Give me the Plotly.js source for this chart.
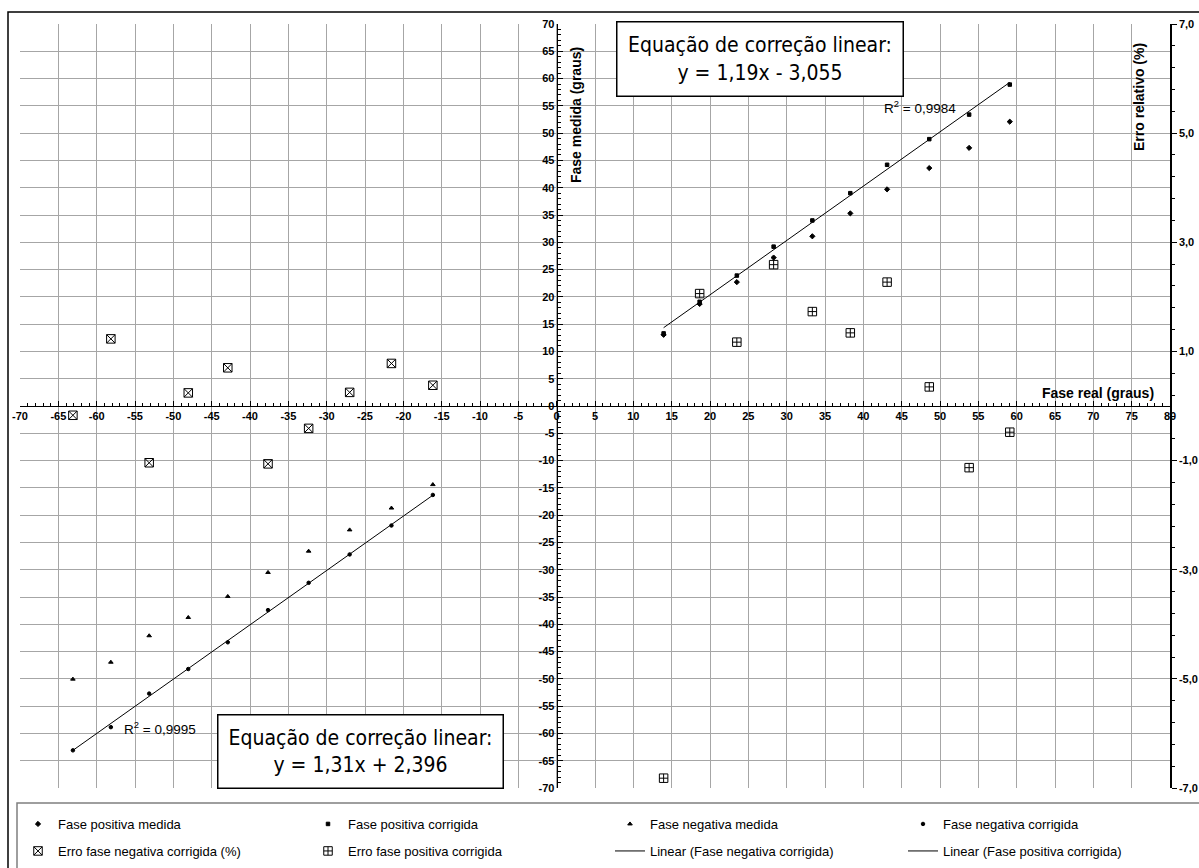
<!DOCTYPE html>
<html>
<head>
<meta charset="utf-8">
<script src="https://cdn.plot.ly/plotly-3.0.1.min.js"></script>
<style>html,body{margin:0;padding:0;background:#fff;}#chart{width:1199px;height:868px;}</style>
</head>
<body>
<div id="chart"></div>
<script>
// ---------- data ----------
const posReal      = [13.95, 18.65, 23.5, 28.3, 33.35, 38.3, 43.1, 48.6, 53.8, 59.1];
const posMedida    = [13.05, 18.7, 22.7, 27.2, 31.1, 35.3, 39.7, 43.6, 47.3, 52.1];
const posCorrigida = [13.3, 19.1, 23.9, 29.2, 34.0, 39.0, 44.2, 48.9, 53.4, 58.9];
const erroPos      = [-6.82, 2.06, 1.17, 2.59, 1.73, 1.34, 2.27, 0.35, -1.13, -0.48];

const negReal      = [-63.1, -58.15, -53.15, -48.05, -42.9, -37.65, -32.35, -27.0, -21.55, -16.15];
const negMedida    = [-50.05, -46.95, -42.1, -38.75, -34.9, -30.5, -26.6, -22.7, -18.7, -14.4];
const negCorrigida = [-63.1, -58.85, -52.7, -48.2, -43.3, -37.4, -32.4, -27.2, -21.9, -16.3];
const erroNeg      = [-0.17, 1.23, -1.04, 0.24, 0.70, -1.06, -0.41, 0.25, 0.78, 0.38];

const trendPosX = [13.95, 59.1];
const trendPosY = [14.35, 59.3];
const trendNegX = [-63.1, -16.15];
const trendNegY = [-63.1, -16.35];

const seriesNames = [
  'Fase positiva medida', 'Fase positiva corrigida', 'Fase negativa medida', 'Fase negativa corrigida',
  'Erro fase negativa corrigida (%)', 'Erro fase positiva corrigida',
  'Linear (Fase negativa corrigida)', 'Linear (Fase positiva corrigida)'
];

const xTickVals = [-70,-65,-60,-55,-50,-45,-40,-35,-30,-25,-20,-15,-10,-5,0,5,10,15,20,25,30,35,40,45,50,55,60,65,70,75,80];
const xTickText = ['-70','-65','-60','-55','-50','-45','-40','-35','-30','-25','-20','-15','-10','-5','0','5','10','15','20','25','30','35','40','45','50','55','60','65','70','75','80'];
const yTickVals = [-70,-65,-60,-55,-50,-45,-40,-35,-30,-25,-20,-15,-10,-5,0,5,10,15,20,25,30,35,40,45,50,55,60,65,70];
const yTickText = ['-70','-65','-60','-55','-50','-45','-40','-35','-30','-25','-20','-15','-10','-5','0','5','10','15','20','25','30','35','40','45','50','55','60','65','70'];
const y2TickVals = [-7,-5,-3,-1,1,3,5,7];
const y2TickText = ['-7,0','-5,0','-3,0','-1,0','1,0','3,0','5,0','7,0'];

const eqPos = 'Equação de correção linear:<br>y = 1,19x - 3,055';
const eqNeg = 'Equação de correção linear:<br>y = 1,31x + 2,396';
const r2Pos = 'R<sup>2</sup> = 0,9984';
const r2Neg = 'R<sup>2</sup> = 0,9995';

// ---------- geometry helpers (pixels -> paper / container) ----------
const FW = 1199, FH = 868;
const L = 20, T = 24, W = 1150, H = 764;
const px = x => (x - L) / W;
const py = y => (T + H - y) / H;
const cx = x => x / FW;
const cy = y => 1 - y / FH;

const FONT = 'Liberation Sans, Arial, sans-serif';
const NARROW = 'Liberation Sans Narrow, Arial Narrow, DejaVu Sans Condensed, sans-serif';
const bold = arr => arr.map(t => '<b>' + t + '</b>');

const mk = (sym, size) => ({symbol: sym, size: size, color: '#000', line: {color: '#000', width: 1}});

const traces = [
  {x: posReal, y: posMedida, mode: 'markers', name: seriesNames[0], marker: mk('diamond', 4), legend: 'legend'},
  {x: posReal, y: posCorrigida, mode: 'markers', name: seriesNames[1], marker: mk('square', 3.5), legend: 'legend2'},
  {x: negReal, y: negMedida, mode: 'markers', name: seriesNames[2], marker: mk('triangle-up', 4), legend: 'legend3'},
  {x: negReal, y: negCorrigida, mode: 'markers', name: seriesNames[3], marker: mk('circle', 3.5), legend: 'legend4'},
  {x: negReal, y: erroNeg, yaxis: 'y2', mode: 'markers', name: seriesNames[4], marker: {symbol: 'square-x-open', size: 8.5, color: '#000', line: {color: '#000', width: 1}}, legend: 'legend5'},
  {x: posReal, y: erroPos, yaxis: 'y2', mode: 'markers', name: seriesNames[5], marker: {symbol: 'square-cross-open', size: 8.5, color: '#000', line: {color: '#000', width: 1}}, legend: 'legend6'},
  {x: trendNegX, y: trendNegY, mode: 'lines', name: seriesNames[6], line: {color: '#000', width: 1}, legend: 'legend7'},
  {x: trendPosX, y: trendPosY, mode: 'lines', name: seriesNames[7], line: {color: '#000', width: 1}, legend: 'legend8'}
];

const textStarts = [58, 348, 650, 943];
const rowY = [824, 851];
function leg(col, row) {
  return {
    xref: 'container', yref: 'container',
    x: cx(textStarts[col] - 40), y: cy(rowY[row]), xanchor: 'left', yanchor: 'middle',
    orientation: 'h', bgcolor: 'rgba(0,0,0,0)', borderwidth: 0,
    font: {family: FONT, size: 13, color: '#000'}, itemclick: false, itemdoubleclick: false
  };
}

const gridColor = '#a6a6a6';
const tickFont = {family: FONT, size: 11, color: '#000'};

const layout = {
  width: FW, height: FH,
  margin: {l: L, r: FW - L - W, t: T, b: FH - T - H, pad: 0, autoexpand: false},
  paper_bgcolor: '#fff', plot_bgcolor: '#fff',
  showlegend: true,
  xaxis: {
    range: [-70, 80], domain: [0, 1], anchor: 'free', position: 0.5,
    tickmode: 'array', tickvals: xTickVals, ticktext: bold(xTickText),
    ticks: 'inside', ticklen: 5, tickcolor: '#000', tickwidth: 1,
    minor: {tickmode: 'linear', tick0: -70, dtick: 1, ticks: 'inside', ticklen: 3, tickcolor: '#000', showgrid: false},
    showgrid: true, gridcolor: gridColor, gridwidth: 1,
    zeroline: false, showline: true, linecolor: '#000', linewidth: 1,
    tickfont: tickFont, automargin: false, fixedrange: true
  },
  yaxis: {
    range: [-70, 70], domain: [0, 1], anchor: 'free', position: 70 / 150, side: 'left',
    tickmode: 'array', tickvals: yTickVals, ticktext: bold(yTickText),
    ticks: 'inside', ticklen: 5, tickcolor: '#000', tickwidth: 1,
    minor: {tickmode: 'linear', tick0: -70, dtick: 1, ticks: 'inside', ticklen: 3, tickcolor: '#000', showgrid: false},
    showgrid: true, gridcolor: gridColor, gridwidth: 1,
    zeroline: false, showline: true, linecolor: '#000', linewidth: 1,
    tickfont: tickFont, automargin: false, fixedrange: true
  },
  yaxis2: {
    range: [-7, 7], overlaying: 'y', side: 'right', anchor: 'x',
    tickmode: 'array', tickvals: y2TickVals, ticktext: bold(y2TickText),
    ticks: 'outside', ticklen: 5, tickcolor: '#000', tickwidth: 1,
    minor: {tickmode: 'linear', tick0: -7, dtick: 0.4, ticks: 'outside', ticklen: 3, tickcolor: '#000', showgrid: false},
    showgrid: false, zeroline: false, showline: true, linecolor: '#000', linewidth: 1.5,
    tickfont: tickFont, automargin: false, fixedrange: true
  },
  legend: leg(0, 0), legend2: leg(1, 0), legend3: leg(2, 0), legend4: leg(3, 0),
  legend5: leg(0, 1), legend6: leg(1, 1), legend7: leg(2, 1), legend8: leg(3, 1),
  shapes: [
    {type: 'rect', xref: 'paper', yref: 'paper', x0: px(8), x1: px(1215), y0: py(885), y1: py(12),
     line: {color: '#000', width: 1.5}, fillcolor: 'rgba(0,0,0,0)', layer: 'below'},
    {type: 'rect', xref: 'paper', yref: 'paper', x0: px(17), x1: px(1215), y0: py(885), y1: py(803),
     line: {color: '#7f7f7f', width: 1.5}, fillcolor: 'rgba(0,0,0,0)', layer: 'below'}
  ],
  annotations: [
    {text: eqPos, xref: 'paper', yref: 'paper', x: px(759.5), y: py(58.5), xanchor: 'center', yanchor: 'middle',
     showarrow: false, width: 285, height: 73, bgcolor: '#fff', bordercolor: '#000', borderwidth: 1.5, borderpad: 0,
     font: {family: NARROW, size: 21, color: '#000'}},
    {text: eqNeg, xref: 'paper', yref: 'paper', x: px(360), y: py(751), xanchor: 'center', yanchor: 'middle',
     showarrow: false, width: 284, height: 72, bgcolor: '#fff', bordercolor: '#000', borderwidth: 1.5, borderpad: 0,
     font: {family: NARROW, size: 21, color: '#000'}},
    {text: r2Pos, xref: 'paper', yref: 'paper', x: px(920), y: py(107), xanchor: 'center', yanchor: 'middle',
     showarrow: false, font: {family: FONT, size: 13.5, color: '#000'}},
    {text: r2Neg, xref: 'paper', yref: 'paper', x: px(160), y: py(728), xanchor: 'center', yanchor: 'middle',
     showarrow: false, font: {family: FONT, size: 13.5, color: '#000'}},
    {text: '<b>Fase real (graus)</b>', xref: 'paper', yref: 'paper', x: px(1098), y: py(393), xanchor: 'center', yanchor: 'middle',
     showarrow: false, font: {family: FONT, size: 14, color: '#000'}},
    {text: '<b>Fase medida (graus)</b>', xref: 'paper', yref: 'paper', x: px(576), y: py(115), xanchor: 'center', yanchor: 'middle',
     textangle: -90, showarrow: false, font: {family: FONT, size: 14, color: '#000'}},
    {text: '<b>Erro relativo (%)</b>', xref: 'paper', yref: 'paper', x: px(1139), y: py(97), xanchor: 'center', yanchor: 'middle',
     textangle: -90, showarrow: false, font: {family: FONT, size: 14, color: '#000'}}
  ]
};

Plotly.newPlot('chart', traces, layout, {displayModeBar: false, responsive: false});
</script>
</body>
</html>
